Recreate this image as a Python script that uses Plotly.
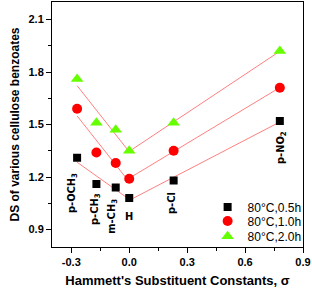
import numpy as np
import plotly.graph_objects as go

sigma = [-0.27, -0.17, -0.07, 0.0, 0.23, 0.78]
subst = ["p-OCH<sub>3</sub>", "p-CH<sub>3</sub>", "m-CH<sub>3</sub>", "H", "p-Cl", "p-NO<sub>2</sub>"]
ds_05h = [1.31, 1.16, 1.14, 1.08, 1.18, 1.52]
ds_10h = [1.59, 1.34, 1.28, 1.19, 1.35, 1.71]
ds_20h = [1.76, 1.51, 1.47, 1.35, 1.51, 1.92]
series_names = ["80°C,0.5h", "80°C,1.0h", "80°C,2.0h"]
colors = ["#000000", "#ff0000", "#66ff00"]
symbols = ["square", "circle", "triangle-up"]
sizes = [8, 10, 11]
legend_ids = ["legend", "legend2", "legend3"]
legend_y = [0.163, 0.106, 0.044]

# label positions (text annotations)
label_x = [-0.30, -0.18, -0.087, 0.0, 0.22, 0.785]
label_y = [1.11, 1.02, 0.975, 0.976, 1.05, 1.37]
label_angle = [-90, -90, -90, 0, -90, -90]

FONT = "Liberation Sans, Arial, sans-serif"
NARROW = "Liberation Sans Narrow, Arial Narrow, DejaVu Sans Condensed, sans-serif"

fig = go.Figure()
x = np.array(sigma)
for ys in [ds_05h, ds_10h, ds_20h]:
    y = np.array(ys)
    xl, yl = x[:4], y[:4]
    kl = np.polyfit(xl, yl, 1)
    xr, yr = x[3:], y[3:]
    kr = np.polyfit(xr, yr, 1)
    fig.add_trace(go.Scatter(x=[xl[0], xl[-1]], y=np.polyval(kl, [xl[0], xl[-1]]),
                             mode="lines", line=dict(color="#ff8080", width=1),
                             showlegend=False, hoverinfo="skip"))
    fig.add_trace(go.Scatter(x=[xr[0], xr[-1]], y=np.polyval(kr, [xr[0], xr[-1]]),
                             mode="lines", line=dict(color="#ff8080", width=1),
                             showlegend=False, hoverinfo="skip"))

for ys, name, c, s, sz, lid in zip([ds_05h, ds_10h, ds_20h], series_names, colors, symbols, sizes, legend_ids):
    fig.add_trace(go.Scatter(x=sigma, y=ys, mode="markers", name=name, legend=lid,
                             marker=dict(color=c, symbol=s, size=sz, line=dict(width=0))))

for lx, ly, t, a in zip(label_x, label_y, subst, label_angle):
    fig.add_annotation(x=lx, y=ly, text=t, textangle=a, showarrow=False,
                       font=dict(family=NARROW, size=11, color="black", weight="bold"))

axis_common = dict(showline=True, linecolor="black", linewidth=1, mirror=True,
                   ticks="outside", ticklen=5, tickwidth=1, tickcolor="black",
                   showgrid=False, zeroline=False, automargin=False,
                   minor=dict(ticks="outside", ticklen=3, tickcolor="black"),
                   tickfont=dict(family=FONT, size=11, color="black", weight="bold"))

fig.update_xaxes(range=[-0.4, 0.9], tickvals=[-0.3, 0.0, 0.3, 0.6, 0.9],
                 ticktext=["-0.3", "0.0", "0.3", "0.6", "0.9"],
                 minor_dtick=0.15, minor_tick0=-0.45,
                 title=dict(text="<b>Hammett's Substituent Constants, σ</b>", standoff=8,
                            font=dict(family=FONT, size=13, color="black")),
                 **axis_common)
fig.update_yaxes(range=[0.8, 2.2], tickvals=[0.9, 1.2, 1.5, 1.8, 2.1],
                 ticktext=["0.9", "1.2", "1.5", "1.8", "2.1"],
                 minor_dtick=0.15, minor_tick0=0.75,
                 title=dict(text="<b>DS of various cellulose benzoates</b>", standoff=6,
                            font=dict(family=FONT, size=12, color="black")),
                 **axis_common)

legend_common = dict(xanchor="left", yanchor="middle", x=0.62,
                     bgcolor="rgba(0,0,0,0)", borderwidth=0,
                     font=dict(family=FONT, size=12, color="black"), itemwidth=30)
layout_legends = {lid: dict(y=ly, **legend_common) for lid, ly in zip(legend_ids, legend_y)}

fig.update_layout(width=312, height=289, margin=dict(l=52, r=9, t=2, b=42),
                  plot_bgcolor="white", paper_bgcolor="white", **layout_legends)

fig.write_html("out.html", config={"displayModeBar": False},
               post_script="document.body.style.margin='0px';document.body.style.overflow='hidden';")
